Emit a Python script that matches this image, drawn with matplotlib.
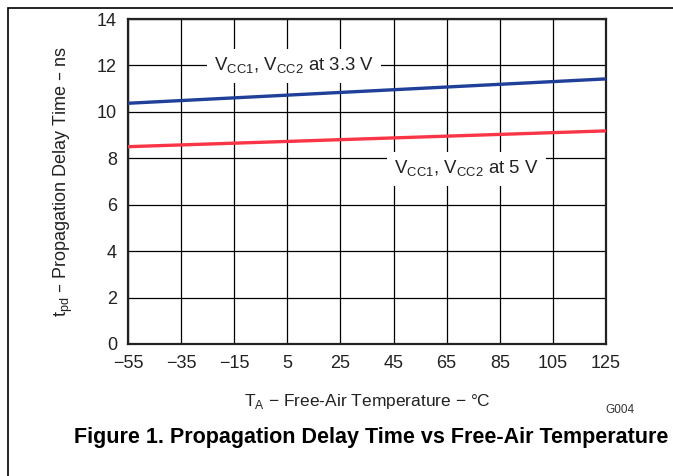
import matplotlib.pyplot as plt
from matplotlib.patches import Rectangle

plt.rcParams['font.family'] = ['Liberation Sans', 'DejaVu Sans']

temp = [-55, 125]
tpd_33 = [10.37, 11.42]
tpd_5 = [8.5, 9.18]
xticks = [-55, -35, -15, 5, 25, 45, 65, 85, 105, 125]
yticks = [0, 2, 4, 6, 8, 10, 12, 14]

fig = plt.figure(figsize=(6.73, 4.76), dpi=100)
ax = fig.add_axes([128/673, 1-344/476, 478/673, 325/476])

ax.plot(temp, tpd_33, color='#1f3f98', lw=2.4, zorder=3)
ax.plot(temp, tpd_5, color='#fa3545', lw=2.4, zorder=3)

ax.set_xlim(-55, 125)
ax.set_ylim(0, 14)
ax.set_xticks(xticks)
ax.set_yticks(yticks)
ax.set_xticklabels([str(t).replace('-', '\u2212') for t in xticks])
ax.grid(True, color='black', lw=0.9)
ax.set_axisbelow(True)
ax.tick_params(length=0, labelsize=13, pad=8, colors='#222222')
for s in ax.spines.values():
    s.set_linewidth(1.6)
    s.set_color('#222222')

box = dict(facecolor='white', edgecolor='none', pad=5)
ax.text(7.5, 11.98, r'V$_{\mathregular{CC1}}$, V$_{\mathregular{CC2}}$ at 3.3 V',
        ha='center', va='center', fontsize=13.4, color='#222222', bbox=box, zorder=2)
ax.text(72.5, 7.55, r'V$_{\mathregular{CC1}}$, V$_{\mathregular{CC2}}$ at 5 V',
        ha='center', va='center', fontsize=13.4, color='#222222', bbox=box, zorder=2)

ax.set_xlabel('T$_{\\mathregular{A}}$ \u2212 Free-Air Temperature \u2212 \u00b0C',
              fontsize=12.5, labelpad=14, color='#222222')
ax.set_ylabel('t$_{\\mathregular{pd}}$ \u2013 Propagation Delay Time \u2013 ns',
              fontsize=13, labelpad=16, color='#222222')

fig.text(620/673, 1-410/476, 'G004', fontsize=8.5, ha='center', va='center', color='#333333')
fig.text(371/673, 1-437/476, 'Figure 1. Propagation Delay Time vs Free-Air Temperature',
         fontsize=15.5, fontweight='bold', ha='center', va='center')

fig.patches.append(Rectangle((8/673, -0.1), 1.2, 1 - 8/476 + 0.1, transform=fig.transFigure,
                             fill=False, edgecolor='black', lw=1.2))

fig.savefig('out.png', dpi=100)
